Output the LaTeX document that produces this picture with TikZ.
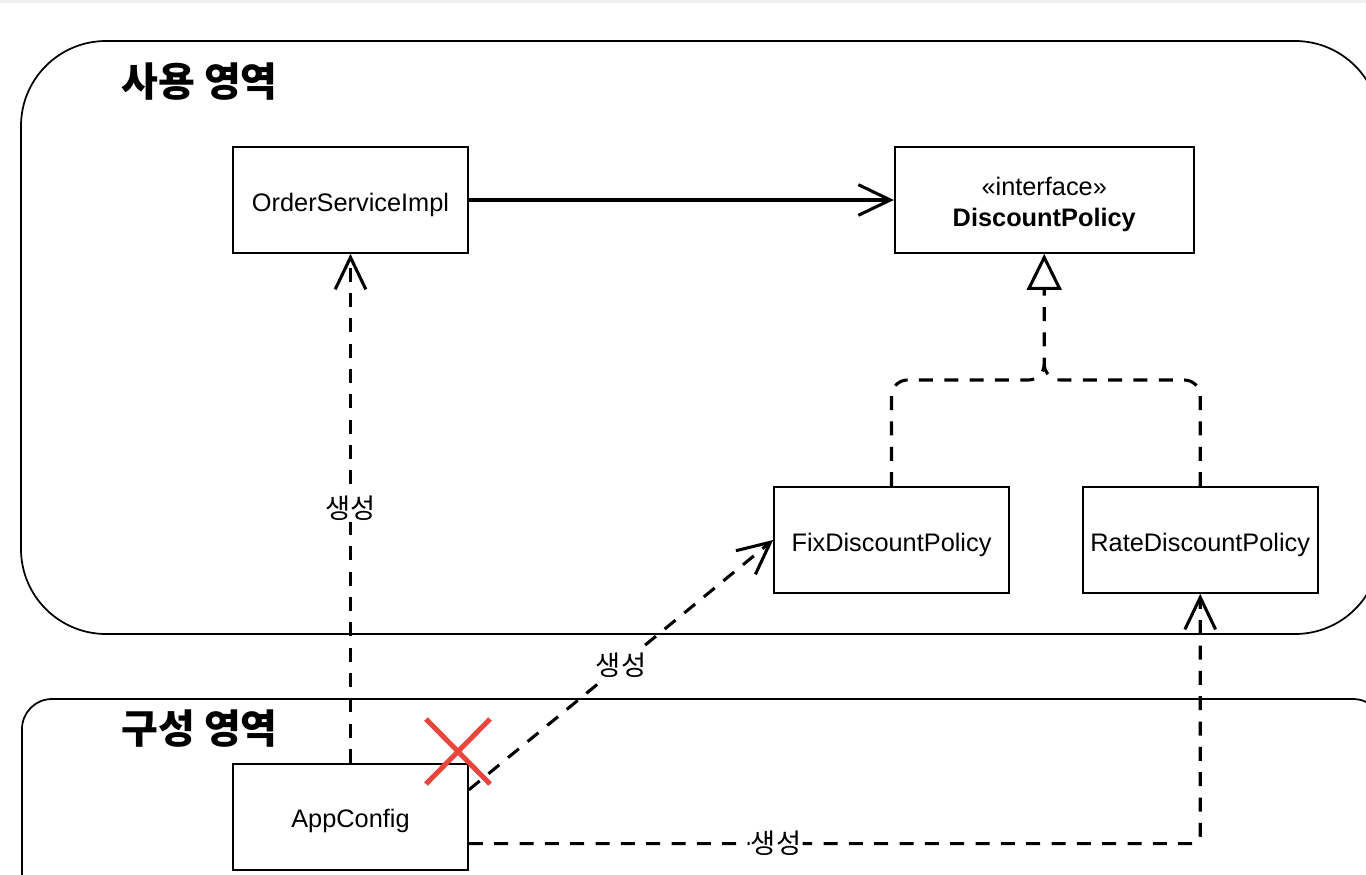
\documentclass[tikz,border=0pt]{standalone}
\usepackage{fontspec}
\setmainfont{Liberation Sans}
\newfontfamily\kr{Noto Sans CJK KR}
\usepackage{tikz}
\usetikzlibrary{positioning, arrows.meta, calc}
\definecolor{xred}{HTML}{E8453C}

\begin{document}
\begin{tikzpicture}[x=0.75pt, y=-0.75pt,
		area/.style={draw, line width=1.3pt},
		box/.style={rectangle, draw, line width=1.3pt, minimum width=176.25pt, minimum height=79.5pt, inner sep=0pt, text height=21.25pt, text depth=4.75pt, font=\fontsize{19}{23}\selectfont},
		dashline/.style={line width=2.3pt, dash pattern=on 10.5pt off 8.5pt},
		openvee/.style={-{Straight Barb[length=24pt, width=23pt]}},
		edgetext/.style={fill=white, inner sep=1pt, font=\kr\fontsize{20.5}{24}\selectfont},
		areatitle/.style={anchor=west, inner sep=0pt, font=\kr\bfseries\fontsize{30}{34}\selectfont}]
	\useasboundingbox (0,0) rectangle (1366,874);
	\fill[gray!12] (0,0) rectangle (1366,3);
	
	% Aree
	\draw[area, rounded corners=63.75pt] (21,41) rectangle (1380,634);
	\draw[area, rounded corners=22.5pt] (22,699) rectangle (1383,905);
	\node[areatitle] (usetitle) at (121,82) {사용 영역};
	\node[areatitle] (conftitle) at (121,729) {구성 영역};
	
	% Classi
	\node[box] (osi) at (350.5,200) {OrderServiceImpl};
	\node[box, right=318.75pt of osi, minimum width=224.25pt, text height=30pt, text depth=14.2pt] (dp) {\begin{tabular}{@{}c@{}}«interface»\\\textbf{DiscountPolicy}\end{tabular}};
	\node[box] (fix) at (891.5,540) {FixDiscountPolicy};
	\node[box, right=54pt of fix] (rate) {RateDiscountPolicy};
	\node[box, below=381.75pt of osi] (app) {AppConfig};
	
	% Dipendenza
	\draw[line width=2.3pt, openvee] (osi) -- (dp);
	
	% Implementazione
	\coordinate (join) at (dp.south |- 0,380);
	\draw[dashline, -{Triangle[open, length=27pt, width=26pt]}, rounded corners=12pt] (fix.north) |- (join) -- (dp.south);
	\draw[dashline, rounded corners=12pt] (rate.north) |- (join) -- ++(0,-14);
	
	% Creazione
	\coordinate (appup) at ($(app.north east)!0.25!(app.south east)$);
	\coordinate (appdown) at ($(app.north east)!0.75!(app.south east)$);
	\draw[dashline, openvee] (app) -- node[edgetext] {생성} (osi);
	\draw[dashline, openvee] (appup) -- node[edgetext] {생성} (fix.west);
	\draw[dashline, openvee, rounded corners=6pt] (appdown) -| node[edgetext, pos=0.21] {생성} (rate.south);
	
	% Croce
	\draw[xred, line width=3.75pt] (426,719) -- (490,784) (490,719) -- (426,784);
\end{tikzpicture}
\end{document}
